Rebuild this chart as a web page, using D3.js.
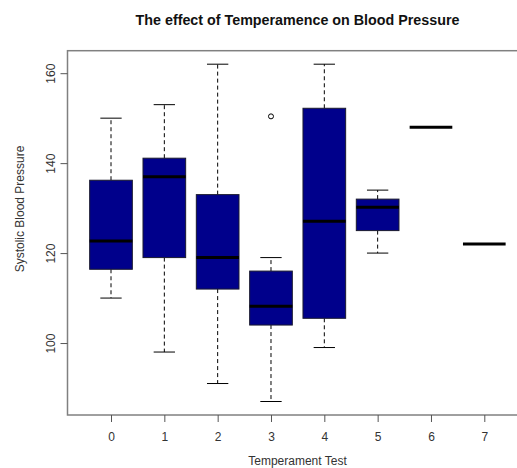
<!DOCTYPE html>
<html>
<head>
<meta charset="utf-8">
<script src="https://cdn.jsdelivr.net/npm/d3@7"></script>
<style>
  html, body { margin: 0; padding: 0; background: #fff; }
  svg { display: block; }
  text { font-family: "Liberation Sans", Arial, sans-serif; }
</style>
</head>
<body>
<svg id="chart" width="517" height="468"></svg>
<script>
// ---- data ----
const categories = ["0", "1", "2", "3", "4", "5", "6", "7"];
const lowerWhisker = [110, 98, 91, 87, 99, 120, 148, 122];
const q1Values     = [116.4, 119, 112, 104, 105.5, 125, 148, 122];
const medianValues = [122.7, 137, 119, 108.2, 127.1, 130.2, 148, 122];
const q3Values     = [136.2, 141.1, 133, 116, 152.2, 132, 148, 122];
const upperWhisker = [150, 153, 162, 119, 162, 134, 148, 122];
const outliers     = [[], [], [], [150.4], [], [], [], []];
const yTicks = [100, 120, 140, 160];

const titleText = "The effect of Temperamence on Blood Pressure";
const xLabel = "Temperament Test";
const yLabel = "Systolic Blood Pressure";

// ---- layout ----
const svg = d3.select("#chart");
const plot = { left: 67.5, right: 528, top: 50.7, bottom: 415 };

const x = d3.scalePoint()
  .domain(categories)
  .range([111, 484.3]);
const step = x.step();
const boxW = step * 0.8;
const capW = boxW * 0.5;

const y = d3.scaleLinear()
  .domain([84, 165])
  .range([plot.bottom, plot.top]);

const frameColor = "#808080";
const textColor = "#333";

// frame
svg.append("rect")
  .attr("x", plot.left).attr("y", plot.top)
  .attr("width", plot.right - plot.left).attr("height", plot.bottom - plot.top)
  .attr("fill", "none").attr("stroke", frameColor).attr("stroke-width", 1.5);

// y axis
const yAxis = d3.axisLeft(y).tickValues(yTicks).tickSize(7).tickPadding(0).tickFormat(d3.format("d"));
const yg = svg.append("g").attr("transform", `translate(${plot.left},0)`).call(yAxis);
yg.select(".domain").remove();
yg.selectAll(".tick line").attr("stroke", "#555").attr("stroke-width", 1);
yg.selectAll(".tick text")
  .attr("fill", textColor)
  .attr("font-size", 12)
  .attr("text-anchor", "middle")
  .attr("dy", 0)
  .attr("x", 0)
  .attr("transform", "translate(-16,0) rotate(-90)")
  .attr("dominant-baseline", "middle");

// x axis
const xAxis = d3.axisBottom(x).tickSize(7).tickPadding(10);
const xg = svg.append("g").attr("transform", `translate(0,${plot.bottom})`).call(xAxis);
xg.select(".domain").remove();
xg.selectAll(".tick line").attr("stroke", "#555").attr("stroke-width", 1);
xg.selectAll(".tick text").attr("fill", textColor).attr("font-size", 12);

// boxes
const data = categories.map((c, i) => ({
  cat: c, lo: lowerWhisker[i], q1: q1Values[i], med: medianValues[i],
  q3: q3Values[i], hi: upperWhisker[i], out: outliers[i]
}));

const g = svg.append("g");
data.forEach(d => {
  const cx = x(d.cat);
  const single = d.q3 === d.q1;
  if (!single) {
    // whiskers (dashed)
    g.append("line").attr("x1", cx).attr("x2", cx).attr("y1", y(d.q3)).attr("y2", y(d.hi))
      .attr("stroke", "#000").attr("stroke-width", 1).attr("stroke-dasharray", "4,3");
    g.append("line").attr("x1", cx).attr("x2", cx).attr("y1", y(d.q1)).attr("y2", y(d.lo))
      .attr("stroke", "#000").attr("stroke-width", 1).attr("stroke-dasharray", "4,3");
    // caps
    [d.hi, d.lo].forEach(v => {
      g.append("line").attr("x1", cx - capW / 2).attr("x2", cx + capW / 2)
        .attr("y1", y(v)).attr("y2", y(v))
        .attr("stroke", "#000").attr("stroke-width", 1);
    });
    // box
    g.append("rect")
      .attr("x", cx - boxW / 2).attr("width", boxW)
      .attr("y", y(d.q3)).attr("height", y(d.q1) - y(d.q3))
      .attr("fill", "#00008B").attr("stroke", "#1a1a2e").attr("stroke-width", 1);
  }
  // median
  g.append("line").attr("x1", cx - boxW / 2).attr("x2", cx + boxW / 2)
    .attr("y1", y(d.med)).attr("y2", y(d.med))
    .attr("stroke", "#000").attr("stroke-width", 3);
  // outliers
  d.out.forEach(v => {
    g.append("circle").attr("cx", cx).attr("cy", y(v)).attr("r", 2.5)
      .attr("fill", "none").attr("stroke", "#000").attr("stroke-width", 1);
  });
});

// title
svg.append("text")
  .attr("x", 297.5).attr("y", 25)
  .attr("text-anchor", "middle")
  .attr("font-size", 14.3).attr("font-weight", "bold").attr("fill", "#111")
  .text(titleText);

// x label
svg.append("text")
  .attr("x", 297.5).attr("y", 465)
  .attr("text-anchor", "middle")
  .attr("font-size", 12).attr("fill", textColor)
  .text(xLabel);

// y label
svg.append("text")
  .attr("transform", "translate(24,209) rotate(-90)")
  .attr("text-anchor", "middle")
  .attr("font-size", 12).attr("fill", textColor)
  .text(yLabel);
</script>
</body>
</html>
